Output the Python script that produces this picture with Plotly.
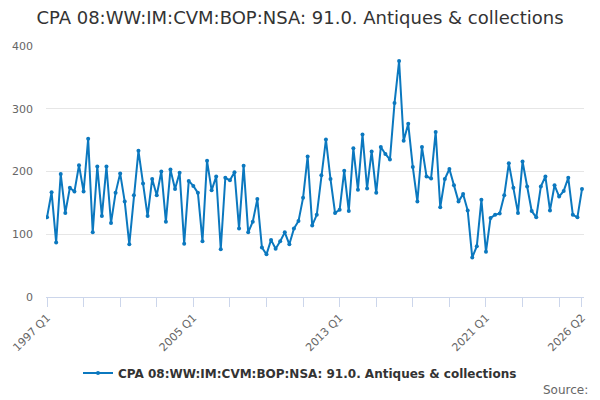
import plotly.graph_objects as go

# quarterly series, 1997 Q1 .. 2026 Q2
quarters = [f"{y} Q{q}" for y in range(1997, 2027) for q in range(1, 5)][:118]

values = [
    127, 167, 87, 196, 134, 174, 168, 210, 168, 252,
    103, 208, 129, 208, 118, 166, 197, 152, 84, 162,
    233, 181, 129, 188, 162, 200, 120, 203, 172, 198,
    85, 185, 177, 166, 89, 217, 170, 192, 76, 190,
    186, 199, 109, 209, 103, 120, 156, 79, 68, 91,
    77, 89, 103, 84, 109, 121, 158, 224, 114, 131,
    194, 251, 188, 134, 139, 201, 137, 237, 171, 259,
    173, 232, 166, 239, 228, 219, 309, 376, 249, 276,
    207, 152, 239, 192, 189, 263, 143, 188, 204, 178,
    152, 164, 138, 63, 81, 155, 72, 126, 131, 133,
    162, 213, 174, 134, 216, 176, 137, 127, 176, 192,
    138, 178, 160, 169, 190, 131, 127, 172,
]

series_name = "CPA 08:WW:IM:CVM:BOP:NSA: 91.0. Antiques & collections"
title_text = "CPA 08:WW:IM:CVM:BOP:NSA: 91.0. Antiques & collections"

idx = list(range(len(quarters)))
tick_pos = list(range(0, len(quarters), 8)) + [len(quarters) - 1]
labelled = {0, 32, 64, 96, len(quarters) - 1}
tick_txt = [quarters[i] if i in labelled else "" for i in tick_pos]

# the page body adds an 8px offset, so the figure is drawn 8px smaller
W, H = 592, 392

fig = go.Figure()
fig.add_trace(go.Scatter(
    x=idx, y=values, name=series_name, mode="lines+markers",
    line=dict(color="#0b78bf", width=2),
    marker=dict(size=4, color="#0b78bf"),
    text=quarters, hovertemplate="%{text}: %{y}<extra></extra>",
))

fig.update_layout(
    width=W, height=H,
    margin=dict(l=38, r=16, t=38, b=103),
    paper_bgcolor="white", plot_bgcolor="white",
    font=dict(family="DejaVu Sans", color="#666666"),
    title=dict(text=title_text, x=292 / W, xref="container", xanchor="center",
               y=1 - 10 / H, yref="container", yanchor="middle",
               automargin=False,
               font=dict(size=18, color="#333333")),
    showlegend=True,
    legend=dict(orientation="h", x=292 / W, xanchor="center", xref="container",
                y=1 - 365 / H, yref="container", yanchor="middle",
                itemwidth=30,
                font=dict(size=12, color="#333333", weight="bold")),
    xaxis=dict(range=[-0.22, 117.44], tickmode="array", tickvals=tick_pos,
               ticktext=tick_txt, tickangle=-45, tickfont=dict(size=11),
               ticks="outside", ticklen=9, tickcolor="#ccd6eb",
               showline=True, linecolor="#ccd6eb", linewidth=1,
               showgrid=False, zeroline=False, automargin=False),
    yaxis=dict(range=[0, 400], tickvals=[0, 100, 200, 300, 400],
               tickfont=dict(size=11), gridcolor="#e6e6e6",
               zeroline=False, showline=False, ticklabelstandoff=12,
               automargin=False),
)

fig.add_annotation(text="Source:", xref="paper", yref="paper",
                   x=(582 - 38) / 538, y=(289 - 382) / 251,
                   xanchor="right", yanchor="middle", showarrow=False,
                   font=dict(size=12, color="#666666"))

fig.write_html("out.html")
